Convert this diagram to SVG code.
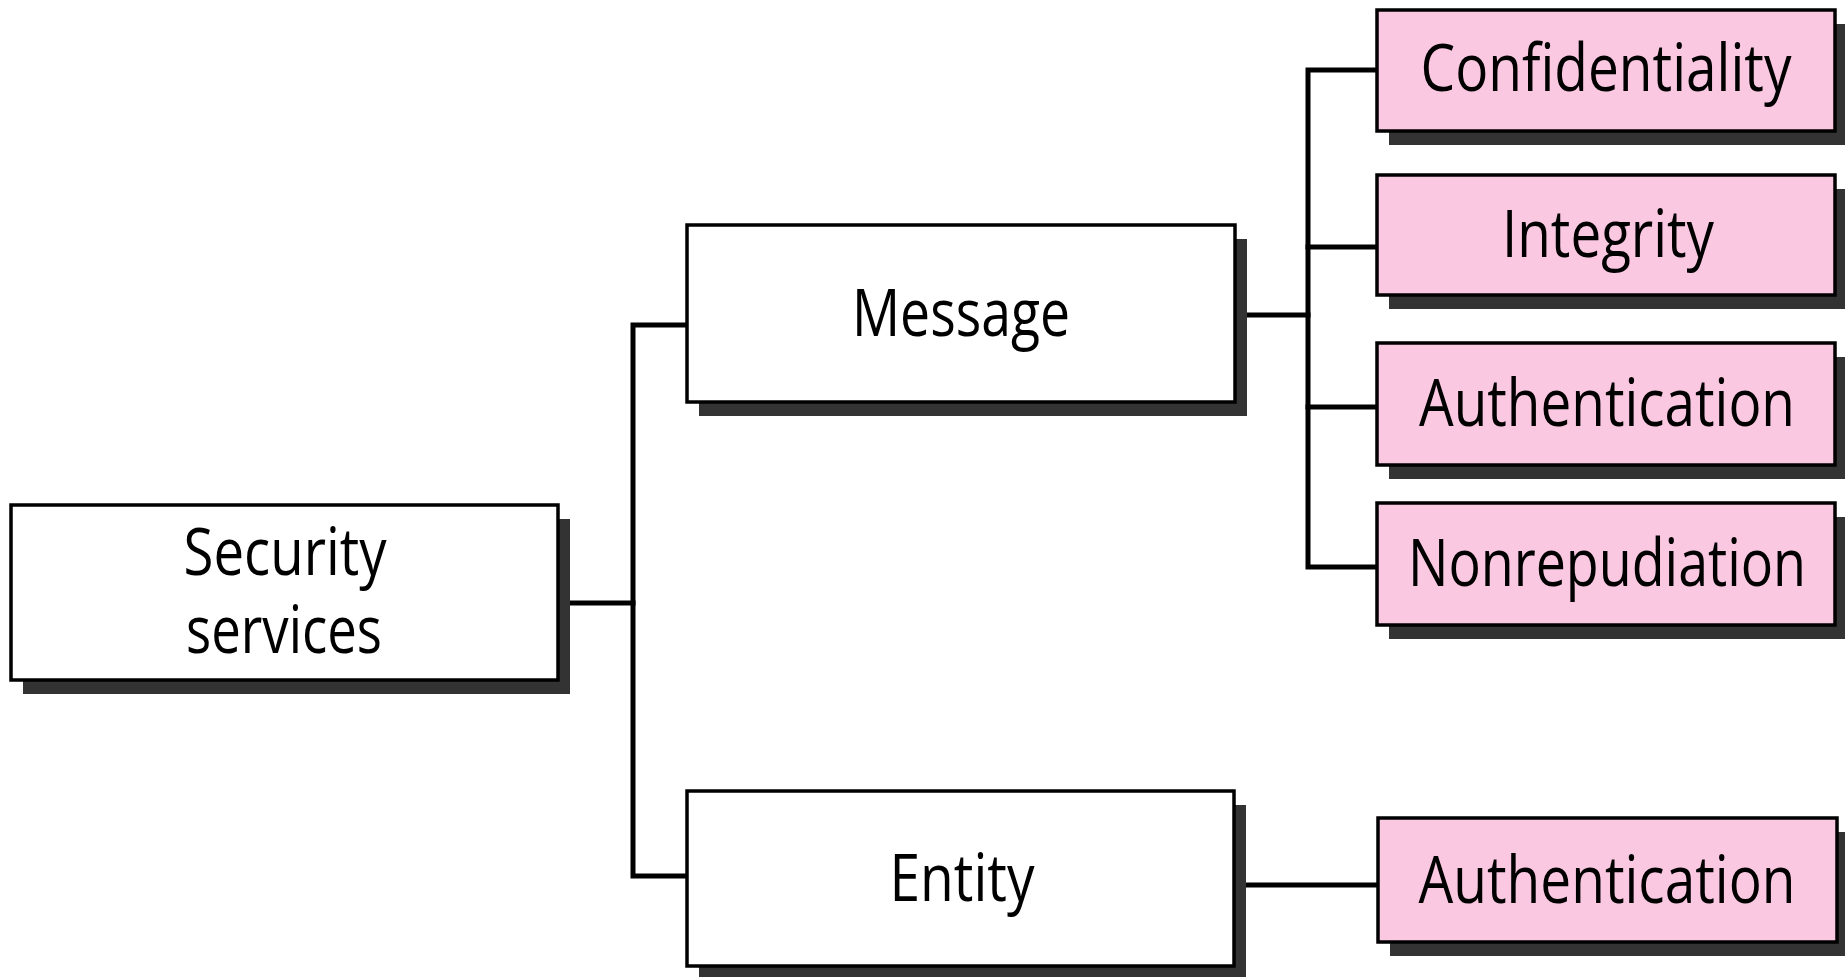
<svg xmlns="http://www.w3.org/2000/svg" width="1845" height="977" viewBox="0 0 1845 977">
<style>
.shadow{fill:#333333;stroke:none}
.box{fill:#ffffff;stroke:#000000;stroke-width:3.5}
.pink{fill:#fbc8e2;stroke:#000000;stroke-width:3.5}
.lbl{font-family:"Open Sans","Liberation Sans",sans-serif;font-size:65px;fill:#000000;text-anchor:middle}
.conn{fill:none;stroke:#000000;stroke-width:5;stroke-linejoin:miter;stroke-linecap:square}
</style>
<rect width="1845" height="977" fill="#ffffff"/>
<g id="connectors">
<polyline class="conn" points="558,603 633,603"/>
<polyline class="conn" points="687,325 633,325 633,876 687,876"/>
<polyline class="conn" points="1235,315 1308,315"/>
<polyline class="conn" points="1377,70 1308,70 1308,567 1377,567"/>
<polyline class="conn" points="1308,247 1377,247"/>
<polyline class="conn" points="1308,407 1377,407"/>
<polyline class="conn" points="1234,885 1378,885"/>
</g>
<g id="node-security">
<rect class="shadow" x="23" y="519" width="547" height="175"/>
<rect class="box" x="11" y="505" width="547" height="175"/>
<text class="lbl" x="285" y="575" font-size="60" textLength="203" lengthAdjust="spacingAndGlyphs">Security</text>
<text class="lbl" x="284" y="653" font-size="60" textLength="196" lengthAdjust="spacingAndGlyphs">services</text>
</g>
<g id="node-message">
<rect class="shadow" x="699" y="239" width="548" height="177"/>
<rect class="box" x="687" y="225" width="548" height="177"/>
<text class="lbl" x="961" y="336" textLength="218" lengthAdjust="spacingAndGlyphs">Message</text>
</g>
<g id="node-entity">
<rect class="shadow" x="699" y="805" width="547" height="175"/>
<rect class="box" x="687" y="791" width="547" height="175"/>
<text class="lbl" x="962" y="901" textLength="145" lengthAdjust="spacingAndGlyphs">Entity</text>
</g>
<g id="node-confidentiality">
<rect class="shadow" x="1389" y="24" width="458" height="121"/>
<rect class="pink" x="1377" y="10" width="458" height="121"/>
<text class="lbl" x="1606" y="91" textLength="371" lengthAdjust="spacingAndGlyphs">Confidentiality</text>
</g>
<g id="node-integrity">
<rect class="shadow" x="1389" y="189" width="458" height="120"/>
<rect class="pink" x="1377" y="175" width="458" height="120"/>
<text class="lbl" x="1608" y="257" textLength="212" lengthAdjust="spacingAndGlyphs">Integrity</text>
</g>
<g id="node-authentication-message">
<rect class="shadow" x="1389" y="357" width="458" height="122"/>
<rect class="pink" x="1377" y="343" width="458" height="122"/>
<text class="lbl" x="1607" y="426" textLength="376" lengthAdjust="spacingAndGlyphs">Authentication</text>
</g>
<g id="node-nonrepudiation">
<rect class="shadow" x="1389" y="517" width="458" height="122"/>
<rect class="pink" x="1377" y="503" width="458" height="122"/>
<text class="lbl" x="1607" y="586" textLength="398" lengthAdjust="spacingAndGlyphs">Nonrepudiation</text>
</g>
<g id="node-authentication-entity">
<rect class="shadow" x="1390" y="832" width="459" height="124"/>
<rect class="pink" x="1378" y="818" width="459" height="124"/>
<text class="lbl" x="1607" y="903" textLength="377" lengthAdjust="spacingAndGlyphs">Authentication</text>
</g>
</svg>
